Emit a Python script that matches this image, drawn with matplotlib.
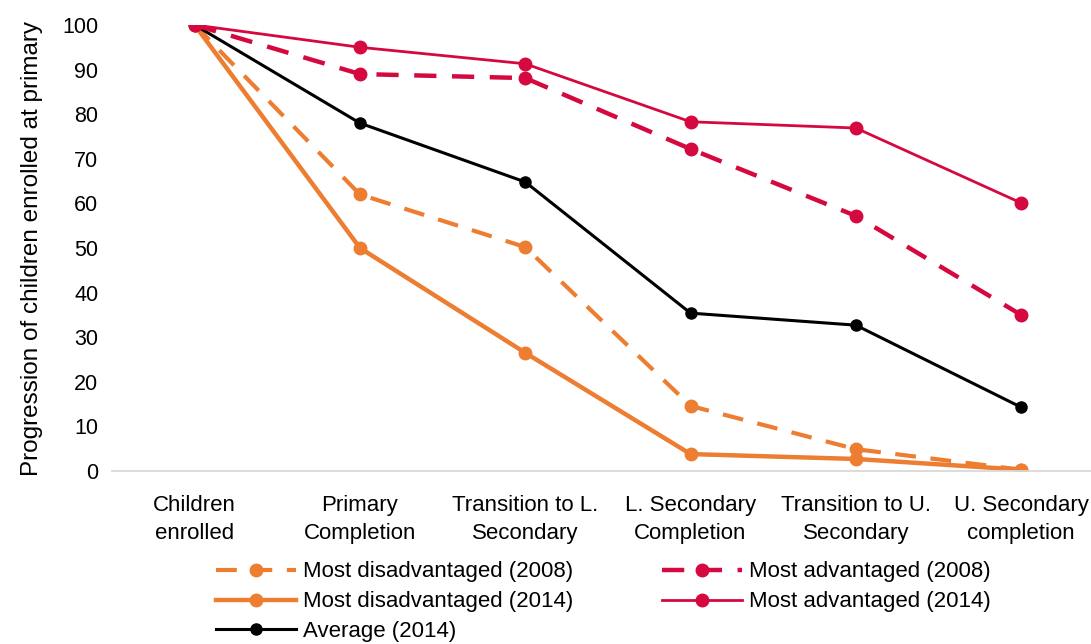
import matplotlib
matplotlib.use("Agg")
import matplotlib.pyplot as plt

# data
stages = ["Children\nenrolled", "Primary\nCompletion", "Transition to L.\nSecondary",
          "L. Secondary\nCompletion", "Transition to U.\nSecondary", "U. Secondary\ncompletion"]
disadv_2008 = [100, 62.0, 50.2, 14.6, 4.9, 0.3]
disadv_2014 = [100, 50.0, 26.5, 3.8, 2.7, 0.3]
avg_2014 = [100, 78.0, 64.8, 35.4, 32.7, 14.3]
adv_2008 = [100, 89.0, 88.1, 72.2, 57.2, 35.0]
adv_2014 = [100, 95.0, 91.3, 78.3, 76.9, 60.1]
yticks = [0, 10, 20, 30, 40, 50, 60, 70, 80, 90, 100]

ORANGE = "#ED7D31"
RED = "#D5083F"

plt.rcParams["font.family"] = ["Liberation Sans", "DejaVu Sans"]

fig = plt.figure(figsize=(10.91, 6.44), dpi=100)
ax = fig.add_axes([0.1027, 0.2686, 0.909, 0.6926])

x = list(range(len(stages)))
ax.plot(x, disadv_2008, color=ORANGE, lw=3, dashes=(5, 3.5), marker="o", ms=9,
        label="Most disadvantaged (2008)")
ax.plot(x, disadv_2014, color=ORANGE, lw=3.2, marker="o", ms=9,
        label="Most disadvantaged (2014)")
ax.plot(x, avg_2014, color="black", lw=2.2, marker="o", ms=8,
        label="Average (2014)")
ax.plot(x, adv_2008, color=RED, lw=3.2, dashes=(5, 3.5), marker="o", ms=9,
        label="Most advantaged (2008)")
ax.plot(x, adv_2014, color=RED, lw=2, marker="o", ms=9,
        label="Most advantaged (2014)")

ax.set_xlim(-0.5, 5.5)
ax.set_ylim(0, 100)
ax.set_yticks(yticks)
ax.set_xticks(x)
ax.set_xticklabels(stages, fontsize=16, linespacing=1.45)
ax.tick_params(axis="y", labelsize=15.5, length=0, pad=10)
ax.tick_params(axis="x", length=0, pad=17)
for s in ["top", "right", "left"]:
    ax.spines[s].set_visible(False)
ax.spines["bottom"].set_color("#d9d9d9")
ax.spines["bottom"].set_linewidth(1.3)
ax.set_ylabel("Progression of children enrolled at primary", fontsize=17.5, labelpad=14)

leg = fig.legend(loc="upper left", bbox_to_anchor=(0.19, 0.142), ncol=2, frameon=False,
                 fontsize=16, handlelength=3.6, handletextpad=0.3, columnspacing=4.0,
                 labelspacing=0.4, borderaxespad=0)

fig.savefig("out.png", dpi=100)
